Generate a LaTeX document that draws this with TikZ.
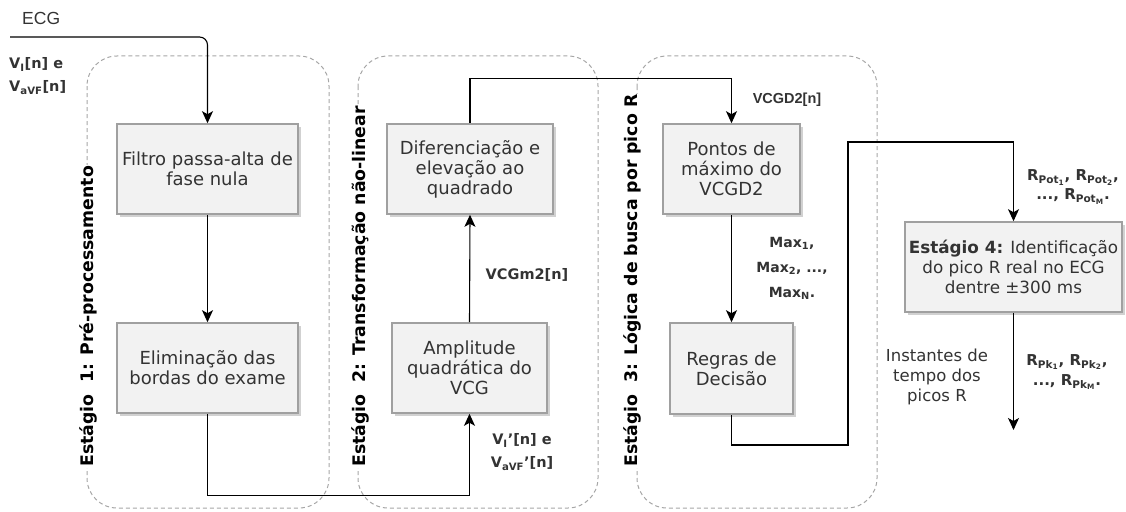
\documentclass[tikz,border=0pt]{standalone}
\usepackage{fontspec}
\setmainfont{DejaVu Sans}
\newfontfamily\arialf{Liberation Sans}
\usetikzlibrary{arrows.meta,shadows}
\definecolor{boxfill}{HTML}{F2F2F2}
\definecolor{boxline}{HTML}{A0A0A0}
\definecolor{stageline}{HTML}{A6A6A6}
\definecolor{txt}{HTML}{333333}
\begin{document}
\begin{tikzpicture}[x=1pt,y=-1pt,
  procbox/.style={draw=boxline, line width=1.6pt, fill=boxfill, align=center, text=txt,
    inner sep=2pt, font=\fontsize{18}{20}\selectfont,
    general shadow={fill=black!18, shadow xshift=3pt, shadow yshift=-3pt}},
  stagebox/.style={draw=stageline, line width=1pt, dash pattern=on 4pt off 3pt, rounded corners=30pt},
  stagelabel/.style={rotate=90, anchor=west, fill=white, inner sep=1pt, text=black,
    font=\bfseries\fontsize{17.3}{19}\selectfont},
  arr/.style={draw=black, line width=1.1pt, -{Stealth[length=12pt,width=11pt,inset=3pt]}},
  lbl/.style={align=center, font=\bfseries\fontsize{14.5}{23}\selectfont, text=txt, inner sep=0pt},
  plain/.style={align=center, font=\fontsize{16.5}{20}\selectfont, text=txt, inner sep=0pt}
]
\useasboundingbox (0,0) rectangle (1126,511);
% stage containers
\draw[stagebox] (87,56) rectangle (329,508);
\draw[stagebox] (358,56) rectangle (598,508);
\draw[stagebox] (637,56) rectangle (877,508);
\node[stagelabel] (s1) at (88,468) {Estágio\ \ 1: Pré-processamento};
\node[stagelabel] (s2) at (360,468) {Estágio\ \ 2: Transformação não-linear};
\node[stagelabel] (s3) at (632,468) {Estágio\ \ 3: Lógica de busca por pico R};
% boxes
\node[procbox, minimum width=181pt, minimum height=90pt] (filt) at (207.5,169) {Filtro passa-alta de\\fase nula};
\node[procbox, minimum width=181pt, minimum height=90pt] (elim) at (207.5,368) {Eliminação das\\bordas do exame};
\node[procbox, minimum width=166pt, minimum height=90pt] (dif) at (470,169) {Diferenciação e\\elevação ao\\quadrado};
\node[procbox, minimum width=155pt, minimum height=90pt] (amp) at (469.5,368) {Amplitude\\quadrática do\\VCG};
\node[procbox, minimum width=137pt, minimum height=90pt] (pont) at (731.5,169) {Pontos de\\máximo do\\VCGD2};
\node[procbox, minimum width=123pt, minimum height=91pt] (regr) at (731.5,368.5) {Regras de\\Decisão};
\node[procbox, minimum width=217pt, minimum height=90pt, font=\fontsize{16.8}{20}\selectfont] (st4) at (1013.5,267) {\textbf{Estágio 4:} Identificação\\do pico R real no ECG\\dentre ±300 ms};
% coordinates
\coordinate (ecg) at (10,37);
\coordinate (j1) at (848,445);
\coordinate (j2) at (848,142);
\coordinate (out) at (1013.5,430);
% connectors
\draw[arr, rounded corners=8pt] (ecg) -| (filt.north);
\draw[arr] (filt.south) -- (elim.north);
\draw[arr] (elim.south) -- ++(0,82) -| (amp.south);
\draw[arr] (amp.north) -- (dif.south);
\draw[arr] (dif.north) -- ++(0,-45) -| (pont.north);
\draw[arr] (pont.south) -- (regr.north);
\draw[arr] (regr.south) |- (j1) -- (j2) -| (st4.north);
\draw[arr] (st4.south) -- (out);
% labels
\node[plain, anchor=west, font=\arialf\fontsize{17.5}{20}\selectfont] (ecgl) at (22,18) {ECG};
\node[lbl, anchor=west, align=left] (vin) at (9,76) {V\textsubscript{I}[n] e\\V\textsubscript{aVF}[n]};
\node[lbl] (vcgm) at (527,275) {VCGm2[n]};
\node[lbl] (vinp) at (522,452) {V\textsubscript{I}'[n] e\\V\textsubscript{aVF}'[n]};
\node[lbl, font=\arialf\bfseries\fontsize{14.5}{20}\selectfont] (vcgd) at (787,100) {VCGD2[n]};
\node[lbl, font=\bfseries\fontsize{14}{25}\selectfont] (maxl) at (792,268) {Max\textsubscript{1},\\Max\textsubscript{2}, ...,\\Max\textsubscript{N}.};
\node[lbl, font=\bfseries\fontsize{15}{19}\selectfont] (rpot) at (1073,187) {R\textsubscript{Pot\textsubscript{1}}, R\textsubscript{Pot\textsubscript{2}},\\..., R\textsubscript{Pot\textsubscript{M}}.};
\node[plain] (inst) at (937,377) {Instantes de\\tempo dos\\picos R};
\node[lbl, font=\bfseries\fontsize{15}{20}\selectfont] (rpk) at (1067,372) {R\textsubscript{Pk\textsubscript{1}}, R\textsubscript{Pk\textsubscript{2}},\\..., R\textsubscript{Pk\textsubscript{M}}.};
\end{tikzpicture}
\end{document}
